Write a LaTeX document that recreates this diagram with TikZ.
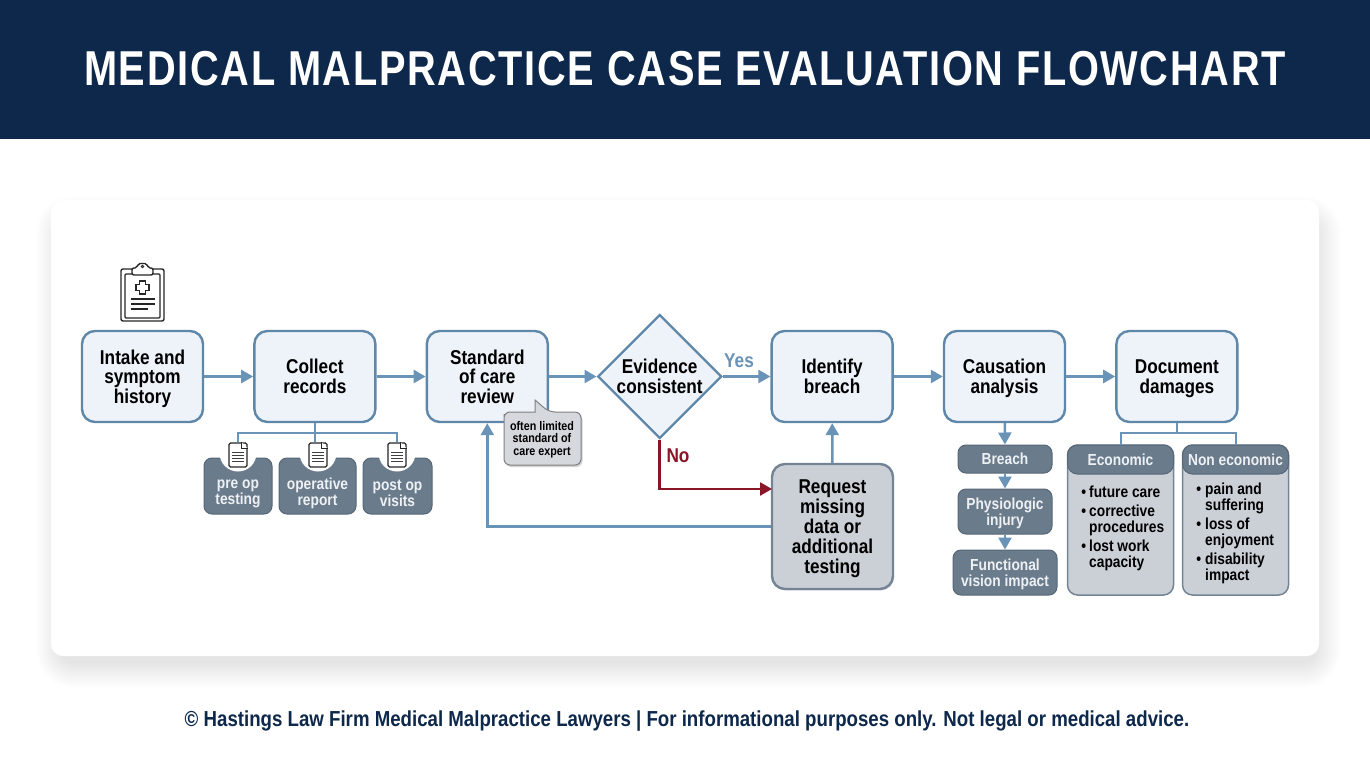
\documentclass[tikz,border=0pt]{standalone}
\usepackage{fontspec}
\setmainfont[FakeStretch=0.86]{Liberation Sans}
\newfontfamily\titlefont[FakeStretch=0.811,LetterSpace=3.5]{Liberation Sans}
\usetikzlibrary{arrows.meta, positioning, shapes.geometric, shadows}
\definecolor{headblue}{HTML}{0D284B}
\definecolor{linkblue}{HTML}{6A93B8}
\definecolor{edgeblue}{HTML}{5F87AA}
\definecolor{paleblue}{HTML}{EDF3F9}
\definecolor{slate}{HTML}{6A7B8C}
\definecolor{slateedge}{HTML}{566676}
\definecolor{slatetext}{HTML}{EEF1F4}
\definecolor{greybox}{HTML}{CBD0D7}
\definecolor{greyedge}{HTML}{748494}
\definecolor{noteface}{HTML}{D5D9DE}
\definecolor{nored}{HTML}{8A1526}

\begin{document}
\begin{tikzpicture}[
            x = 1pt,
            y = -1pt,
            > = {Triangle[length=12pt, width=13pt]},
            node distance = 172.4pt,
            font = \bfseries
        ]

        \tikzstyle{step box}=[
            draw = edgeblue,
            line width = 2.4pt,
            fill = paleblue,
            rounded corners = 13pt,
            minimum width = 121pt,
            minimum height = 91pt,
            align = center,
            text depth = 0pt,
            font = \bfseries\fontsize{20}{19.6}\selectfont
        ]
        \tikzstyle{slate box}=[
            draw = slateedge,
            line width = 1pt,
            fill = slate,
            text = slatetext,
            rounded corners = 8pt,
            align = center,
            inner sep = 0pt,
            text depth = 0pt,
            font = \bfseries\fontsize{16}{16}\selectfont
        ]
        \tikzstyle{panel}=[
            draw = greyedge,
            line width = 1.5pt,
            fill = greybox,
            rounded corners = 10pt,
            minimum width = 106pt,
            minimum height = 150pt
        ]
        \tikzstyle{list}=[
            align = left,
            inner sep = 0pt,
            anchor = west,
            font = \bfseries\fontsize{16}{16}\selectfont
        ]
        \tikzstyle{doc}=[
            draw = black!85,
            line width = 1.2pt,
            fill = white,
            rounded corners = 1.5pt,
            minimum width = 18pt,
            minimum height = 24pt,
            inner sep = 0pt
        ]
        \tikzstyle{link}=[->, color = linkblue, line width = 2.5pt]
        \tikzstyle{bus}=[color = linkblue, line width = 2pt]

        \useasboundingbox (0, 0) rectangle (1370, 765);
        \fill[white] (0, 0) rectangle (1370, 765);
        \fill[headblue] (0, 0) rectangle (1370, 139);
        \node[text = white] (title) at (685, 69) {\titlefont\fontsize{49}{49}\selectfont MEDICAL MALPRACTICE CASE EVALUATION FLOWCHART};

        % card and its soft shadow
        \foreach \g [evaluate = \g as \r using 12+\g] in {1, ..., 26}
            \fill[black, opacity = 0.005, rounded corners = \r pt] ({62-\g}, {222-\g}) rectangle ({1315+\g}, {662+\g});
        \node[fill = white, rounded corners = 12pt, minimum width = 1268pt, minimum height = 456pt] (card) at (685, 428) {};

        % main row
        \node[step box] (intake) at (142.5, 376.5) {Intake and\\symptom\\history};
        \node[step box] (collect) [right of=intake] {Collect\\records};
        \node[step box] (standard) [right of=collect] {Standard\\of care\\review};
        \node[draw = edgeblue, line width = 2.4pt, fill = paleblue, diamond, aspect = 1, inner sep = 0pt,
            minimum size = 124pt, align = center, text depth = 0pt, font = \bfseries\fontsize{20}{19.6}\selectfont]
            (evidence) [right of=standard] {Evidence\\consistent};
        \node[step box] (breach) [right of=evidence] {Identify\\breach};
        \node[step box] (causation) [right of=breach] {Causation\\analysis};
        \node[step box] (damages) [right of=causation] {Document\\damages};
        \node[step box, fill = greybox, draw = greyedge, minimum height = 125pt, font = \bfseries\fontsize{20}{19.9}\selectfont,
            text depth = -1pt, drop shadow = {shadow xshift = 1pt, shadow yshift = -1.5pt, opacity = 0.2}]
            (request) at (832.5, 526.5) {Request\\missing\\data or\\additional\\testing};

        % clipboard
        \draw[black!85, line width = 1.4pt, fill = white, rounded corners = 2pt] (121, 269) rectangle (164, 321);
        \draw[black!85, line width = 1.1pt, rounded corners = 1pt] (125, 274) rectangle (160, 318);
        \draw[black!85, line width = 1.4pt, fill = white, rounded corners = 2pt] (132, 275) -- (132, 268) -- (137, 268) -- (138, 263.5) -- (147, 263.5) -- (148, 268) -- (153, 268) -- (153, 275) -- cycle;
        \draw[black!85, line width = 0.9pt] (142.5, 266.5) circle (1.3);
        \draw[black!85, line width = 1.2pt] (139.5, 281) -- (145.5, 281) -- (145.5, 284.5) -- (149, 284.5) -- (149, 290.5) -- (145.5, 290.5) -- (145.5, 294) -- (139.5, 294) -- (139.5, 290.5) -- (136, 290.5) -- (136, 284.5) -- (139.5, 284.5) -- cycle;
        \foreach \ly/\lx in {299/155, 304/155, 309/148}
            \draw[black!85, line width = 1.1pt] (131, \ly) -- (\lx, \ly);

        % records
        \node[slate box, minimum width = 68pt, minimum height = 56pt] (preop) at (238, 486) {};
        \node[slate box, minimum width = 77pt, minimum height = 56pt] (operative) at (317.5, 486) {};
        \node[slate box, minimum width = 69pt, minimum height = 56pt] (postop) at (397.5, 486) {};
        \foreach \cx in {238, 318, 397}
            \fill[white] (\cx, 453) circle (18.5);
        \node[text = slatetext, align = center, font = \bfseries\fontsize{16}{16}\selectfont] (preoptext) at (238, 493.5) {pre op\\testing};
        \node[text = slatetext, align = center, font = \bfseries\fontsize{16}{16}\selectfont] (operativetext) at (317.5, 493.5) {operative\\report};
        \node[text = slatetext, align = center, font = \bfseries\fontsize{16}{16}\selectfont] (postoptext) at (397.5, 493.5) {post op\\visits};
        \node[doc] (doc1) at (238, 455) {};
        \node[doc] (doc2) at (318, 455) {};
        \node[doc] (doc3) at (397, 455) {};
        \foreach \d in {doc1, doc2, doc3} {
            \draw[black!85, line width = 0.9pt, fill = white] ([xshift = -6pt] \d.north east) -- ([xshift = -6pt, yshift = -6pt] \d.north east) -- ([yshift = -6pt] \d.north east);
            \foreach \s in {10, 13, 16, 19}
                \draw[black!75, line width = 0.9pt] ([xshift = 4pt, yshift = -\s pt] \d.north west) -- ([xshift = -4pt, yshift = -\s pt] \d.north east);
        }

        % causation chain
        \node[slate box, minimum width = 94pt, minimum height = 28pt] (chainbreach) at (1005, 459) {Breach};
        \node[slate box, minimum width = 94pt, minimum height = 45pt] (injury) at (1005, 511.5) {Physiologic\\injury};
        \node[slate box, minimum width = 104pt, minimum height = 45pt] (vision) at (1005, 572.5) {Functional\\vision impact};

        % damages
        \node[panel] (econ) at (1120.5, 520) {};
        \node[slate box, minimum width = 106pt, minimum height = 29pt, rounded corners = 10pt] (econhead) at (1120.5, 459.5) {Economic};
        \node[list] (econlist) at (1089, 528) {\llap{\textbullet\hspace{3pt}}future care\\[3pt]\llap{\textbullet\hspace{3pt}}corrective\\procedures\\[3pt]\llap{\textbullet\hspace{3pt}}lost work\\capacity};
        \node[panel] (noneco) at (1235.5, 520) {};
        \node[slate box, minimum width = 106pt, minimum height = 29pt, rounded corners = 10pt] (nonecohead) at (1235.5, 459.5) {Non economic};
        \node[list] (nonecolist) at (1205, 533) {\llap{\textbullet\hspace{4pt}}pain and\\suffering\\[3pt]\llap{\textbullet\hspace{4pt}}loss of\\enjoyment\\[3pt]\llap{\textbullet\hspace{4pt}}disability\\impact};

        % connectors
        \coordinate (recbus) at (315, 433);
        \coordinate (dambus) at (damages.south |- recbus);
        \coordinate (noin) at (772, 489);
        \path[link] (intake) edge (collect);
        \path[link] (collect) edge (standard);
        \path[link] (standard) edge (evidence);
        \path[link] (evidence) edge (breach);
        \path[link] (breach) edge (causation);
        \path[link] (causation) edge (damages);
        \path[link] (request) edge (breach);
        \path[link] (causation) edge (chainbreach);
        \path[link] (chainbreach) edge (injury);
        \path[link] (injury) edge (vision);
        \draw[link] (request.west) -| (standard.south);
        \draw[->, nored, line width = 2.5pt] (evidence.south) |- (noin);
        \draw[bus] (collect.south) -- (collect.south |- doc2.north);
        \draw[bus] (doc1.north) |- (recbus);
        \draw[bus] (doc3.north) |- (recbus);
        \draw[bus] (damages.south) -- (dambus);
        \draw[bus] (econhead.north) |- (dambus);
        \draw[bus] (nonecohead.north) |- (dambus);

        \node[text = linkblue, font = \bfseries\fontsize{20}{20}\selectfont] (yes) at (739, 361) {Yes};
        \node[text = nored, font = \bfseries\fontsize{20}{20}\selectfont] (no) at (678, 456) {No};

        % note on the review box
        \draw[draw = black!50, line width = 1pt, fill = noteface, rounded corners = 6pt, drop shadow = {shadow xshift = 1.5pt, shadow yshift = -2pt, opacity = 0.35}]
            (504, 420) -- (504, 465) -- (581, 465) -- (581, 412) -- (549, 412) [sharp corners] -- (535, 400) -- (535, 412) [rounded corners = 6pt] -- (504, 412) -- cycle;
        \node[align = center, inner sep = 0pt, font = \bfseries\fontsize{12.5}{12.5}\selectfont] (note) at (542, 439.5) {often limited\\standard of\\care expert};

        \node[text = headblue, font = \bfseries\fontsize{21.7}{21.7}\selectfont] (footer) at (687, 721.5) {© Hastings Law Firm Medical Malpractice Lawyers | For informational purposes only. Not legal or medical advice.};
    \end{tikzpicture}
\end{document}
